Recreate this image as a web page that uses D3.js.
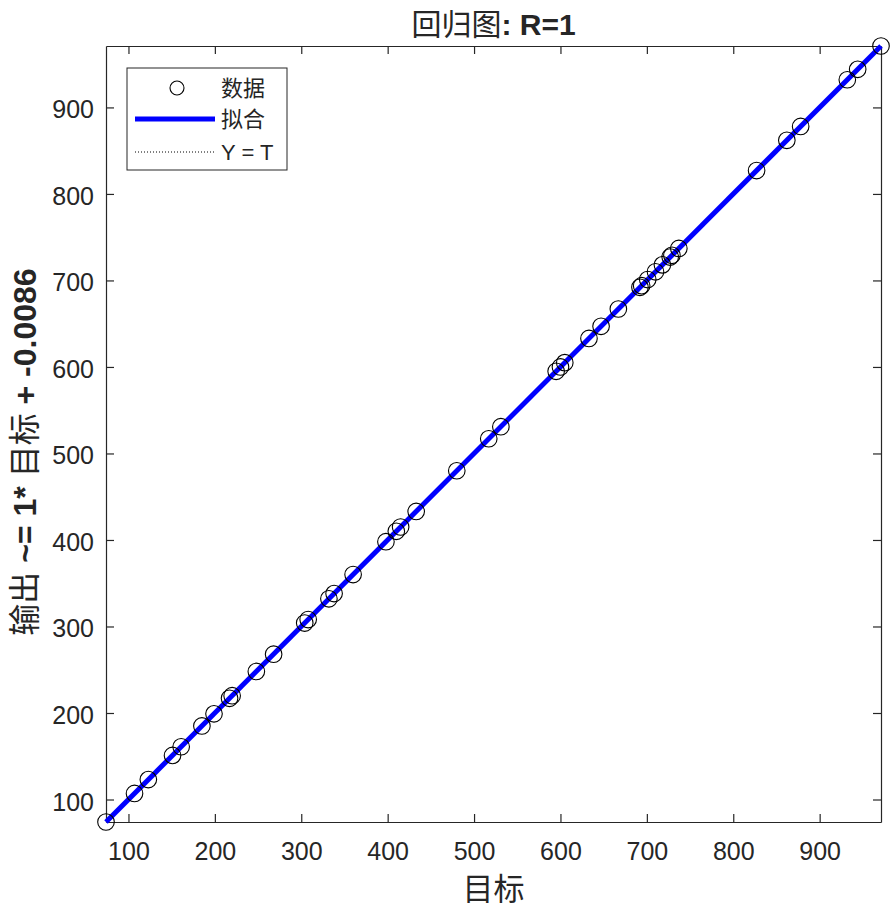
<!DOCTYPE html>
<html>
<head>
<meta charset="utf-8">
<script src="https://cdn.jsdelivr.net/npm/d3@7"></script>
<style>
  body { margin: 0; background: #fff; }
  text { font-family: "Liberation Sans", Arial, "Noto Sans CJK SC", sans-serif; fill: #262626; }
</style>
</head>
<body>
<div id="chart"></div>
<script>
const width = 894, height = 912;
const margin = {top: 46, right: 13, bottom: 90, left: 106};

// targets; outputs sit on the fit line
const targets = [74, 107, 123, 151, 161, 185, 199, 217, 220, 248, 268, 304, 308, 332, 338, 360,
  398, 410, 415, 433, 480, 517, 531, 595, 600, 605, 633, 647, 667, 692, 694, 701, 710, 718,
  727, 729, 737, 827, 862, 878, 932, 944, 971];
const outputs = [74, 107, 123, 151, 161, 185, 199, 217, 220, 248, 268, 304, 308, 332, 338, 360,
  398, 410, 415, 433, 480, 517, 531, 595, 600, 605, 633, 647, 667, 692, 694, 701, 710, 718,
  727, 729, 737, 827, 862, 878, 932, 944, 971];
const ticks = [100, 200, 300, 400, 500, 600, 700, 800, 900];
const slope = 1, intercept = -0.0086;
const legendItems = ["数据", "拟合", "Y = T"];

const iw = width - margin.left - margin.right;
const ih = height - margin.top - margin.bottom;
const lo = d3.min(targets.concat(outputs)), hi = d3.max(targets.concat(outputs));

const svg = d3.select("#chart").append("svg")
  .attr("width", width).attr("height", height);
const g = svg.append("g").attr("transform", `translate(${margin.left},${margin.top})`);

const x = d3.scaleLinear().domain([lo, hi]).range([0, iw]);
const y = d3.scaleLinear().domain([lo, hi]).range([ih, 0]);

// axes: ticks point inward like matlab
const tickLen = 8;
const xAxis = g.append("g").attr("transform", `translate(0,${ih})`)
  .call(d3.axisBottom(x).tickValues(ticks).tickSizeInner(-tickLen).tickSizeOuter(0).tickPadding(20));
const xTop = g.append("g")
  .call(d3.axisTop(x).tickValues(ticks).tickSizeInner(-tickLen).tickSizeOuter(0).tickFormat(""));
const yAxis = g.append("g")
  .call(d3.axisLeft(y).tickValues(ticks).tickSizeInner(-tickLen).tickSizeOuter(0).tickPadding(12));
const yRight = g.append("g").attr("transform", `translate(${iw},0)`)
  .call(d3.axisRight(y).tickValues(ticks).tickSizeInner(-tickLen).tickSizeOuter(0).tickFormat(""));

[xAxis, xTop, yAxis, yRight].forEach(a => {
  a.selectAll("path, line").attr("stroke", "#262626").attr("stroke-width", 1.2);
  a.selectAll("text").attr("font-size", 25).attr("fill", "#262626");
});
yAxis.selectAll("text").attr("dy", "0.42em");

// Y = T dotted line
g.append("line")
  .attr("x1", x(lo)).attr("y1", y(lo)).attr("x2", x(hi)).attr("y2", y(hi))
  .attr("stroke", "#000").attr("stroke-width", 1).attr("stroke-dasharray", "1,2");

// fit line
g.append("line")
  .attr("x1", x(lo)).attr("y1", y(slope * lo + intercept))
  .attr("x2", x(hi)).attr("y2", y(slope * hi + intercept))
  .attr("stroke", "#0000ff").attr("stroke-width", 5);

// data circles
g.selectAll(".pt").data(targets).enter().append("circle")
  .attr("class", "pt")
  .attr("cx", d => x(d)).attr("cy", (d, i) => y(outputs[i]))
  .attr("r", 8.3)
  .attr("fill", "none").attr("stroke", "#000").attr("stroke-width", 1.1);

// title
const title = svg.append("text")
  .attr("x", margin.left + iw / 2).attr("y", 35)
  .attr("text-anchor", "middle").attr("font-size", 30).attr("fill", "#000");
title.append("tspan").attr("font-weight", "normal").text("回归图");
title.append("tspan").attr("font-weight", "bold").text(": R=1");

// x label
svg.append("text")
  .attr("x", margin.left + iw / 2).attr("y", 900)
  .attr("text-anchor", "middle").attr("font-size", 31).text("目标");

// y label
const yl = svg.append("text")
  .attr("transform", `translate(36,${margin.top + ih / 2 + 18}) rotate(-90)`)
  .attr("text-anchor", "middle").attr("font-size", 32);
yl.append("tspan").text("输出");
yl.append("tspan").attr("font-weight", "bold").text(" ~= 1* ");
yl.append("tspan").text("目标");
yl.append("tspan").attr("font-weight", "bold").text(" + -0.0086");

// legend
const leg = svg.append("g").attr("transform", "translate(127,68)");
leg.append("rect").attr("width", 160).attr("height", 102)
  .attr("fill", "#fff").attr("stroke", "#262626").attr("stroke-width", 1);
const rowY = [20, 51, 84];
leg.append("circle").attr("cx", 50).attr("cy", rowY[0]).attr("r", 7)
  .attr("fill", "none").attr("stroke", "#000").attr("stroke-width", 1.1);
leg.append("line").attr("x1", 8).attr("x2", 88).attr("y1", rowY[1]).attr("y2", rowY[1])
  .attr("stroke", "#0000ff").attr("stroke-width", 5);
leg.append("line").attr("x1", 8).attr("x2", 88).attr("y1", rowY[2]).attr("y2", rowY[2])
  .attr("stroke", "#000").attr("stroke-width", 1).attr("stroke-dasharray", "1,2");
leg.selectAll(".lt").data(legendItems).enter().append("text")
  .attr("class", "lt")
  .attr("x", 94).attr("y", (d, i) => rowY[i] + 8)
  .attr("font-size", 22).attr("fill", "#000").text(d => d);
</script>
</body>
</html>
